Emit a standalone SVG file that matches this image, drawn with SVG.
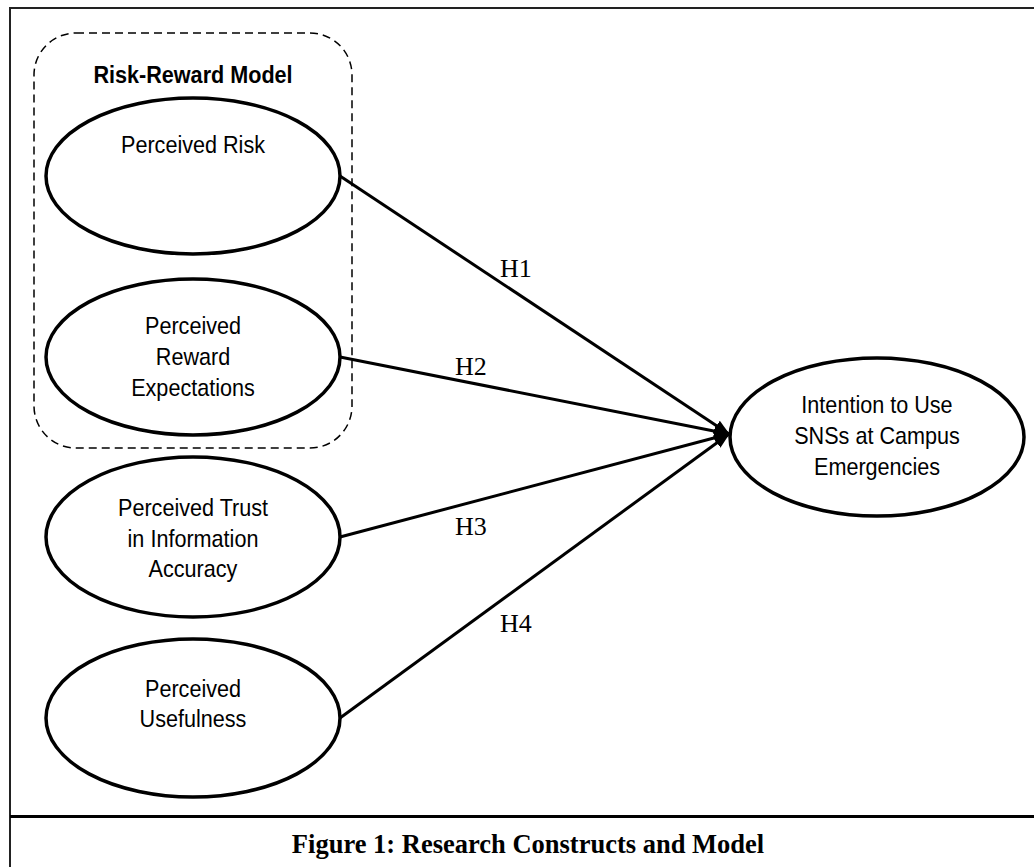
<svg xmlns="http://www.w3.org/2000/svg" width="1034" height="867" viewBox="0 0 1034 867">
<defs>
<style>
.node{fill:#fff;stroke:#000;stroke-width:3.5}
.lbl{font-family:"Liberation Sans",Arial,sans-serif;font-size:24px;fill:#000;text-anchor:middle}
.ttl{font-family:"Liberation Sans",Arial,sans-serif;font-size:24px;font-weight:bold;fill:#000;text-anchor:middle}
.hyp{font-family:"Liberation Serif","Times New Roman",serif;font-size:26px;fill:#000}
.cap{font-family:"Liberation Serif","Times New Roman",serif;font-size:26.5px;font-weight:bold;fill:#000;text-anchor:middle}
.edge{stroke:#000;stroke-width:3;fill:none;marker-end:url(#ah)}
</style>
<marker id="ah" markerWidth="16" markerHeight="12" viewBox="0 0 16 12" refX="15" refY="6" orient="auto" markerUnits="userSpaceOnUse">
<path d="M0,0 L16,6 L0,12 Z" fill="#000"/>
</marker>
</defs>
<rect width="1034" height="867" fill="#fff"/>
<g id="frame">
<path d="M1040,8 H10 V875" fill="none" stroke="#222" stroke-width="2"/>
<line x1="10" y1="816.5" x2="1040" y2="816.5" stroke="#000" stroke-width="3"/>
<text class="cap" x="528" y="853">Figure 1: Research Constructs and Model</text>
</g>
<g id="group-risk-reward">
<rect x="34" y="33" width="318" height="415" rx="42" ry="42" fill="none" stroke="#000" stroke-width="1.5" stroke-dasharray="8 5"/>
<g transform="translate(193 0) scale(0.9 1)"><text class="ttl" x="0" y="83">Risk-Reward Model</text></g>
</g>
<g id="connectors">
<line class="edge" x1="340" y1="176" x2="729" y2="434"/>
<line class="edge" x1="340" y1="357" x2="729" y2="434"/>
<line class="edge" x1="340" y1="537" x2="729" y2="434"/>
<line class="edge" x1="340" y1="718" x2="729" y2="434"/>
<text class="hyp" x="500" y="277">H1</text>
<text class="hyp" x="455" y="375">H2</text>
<text class="hyp" x="455" y="535">H3</text>
<text class="hyp" x="500" y="632">H4</text>
</g>
<g id="node-risk">
<ellipse class="node" cx="193" cy="176" rx="147" ry="78"/>
<g transform="translate(193 0) scale(0.9 1)"><text class="lbl" x="0" y="153">Perceived Risk</text></g>
</g>
<g id="node-reward">
<ellipse class="node" cx="193" cy="357" rx="147" ry="78"/>
<g transform="translate(193 0) scale(0.9 1)"><text class="lbl" x="0" y="334">Perceived</text><text class="lbl" x="0" y="365">Reward</text><text class="lbl" x="0" y="396">Expectations</text></g>
</g>
<g id="node-trust">
<ellipse class="node" cx="193" cy="537" rx="147" ry="80"/>
<g transform="translate(193 0) scale(0.9 1)"><text class="lbl" x="0" y="516">Perceived Trust</text><text class="lbl" x="0" y="547">in Information</text><text class="lbl" x="0" y="577">Accuracy</text></g>
</g>
<g id="node-usefulness">
<ellipse class="node" cx="193" cy="718" rx="147" ry="79"/>
<g transform="translate(193 0) scale(0.9 1)"><text class="lbl" x="0" y="697">Perceived</text><text class="lbl" x="0" y="727">Usefulness</text></g>
</g>
<g id="node-intention">
<ellipse class="node" cx="877" cy="437" rx="147" ry="79"/>
<g transform="translate(877 0) scale(0.9 1)"><text class="lbl" x="0" y="413">Intention to Use</text><text class="lbl" x="0" y="444">SNSs at Campus</text><text class="lbl" x="0" y="475">Emergencies</text></g>
</g>
</svg>
